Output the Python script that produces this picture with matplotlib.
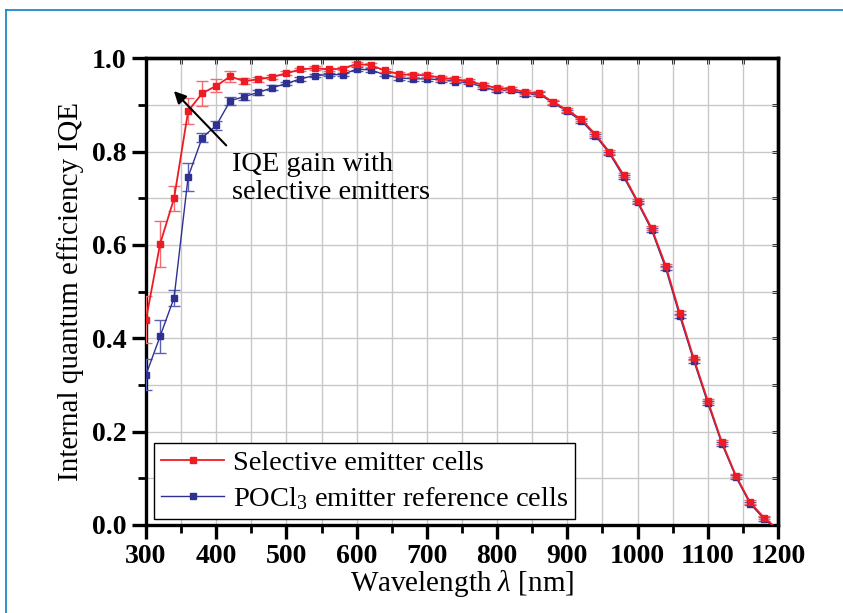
import matplotlib
matplotlib.use("Agg")
import matplotlib.pyplot as plt
from matplotlib.ticker import MultipleLocator
from matplotlib.lines import Line2D

plt.rcParams['font.family'] = ['Liberation Serif', 'DejaVu Serif']
plt.rcParams['mathtext.fontset'] = 'custom'
plt.rcParams['mathtext.rm'] = 'Liberation Serif'
plt.rcParams['mathtext.it'] = 'Liberation Serif:italic'

# wavelength grid in nm
wavelength = [300, 320, 340, 360, 380, 400, 420, 440, 460, 480, 500, 520, 540, 560,
              580, 600, 620, 640, 660, 680, 700, 720, 740, 760, 780, 800, 820, 840,
              860, 880, 900, 920, 940, 960, 980, 1000, 1020, 1040, 1060, 1080, 1100,
              1120, 1140, 1160, 1180, 1200]

# selective emitter cells
iqe_sel = [0.440, 0.602, 0.700, 0.887, 0.925, 0.941, 0.961, 0.951, 0.955, 0.960,
           0.968, 0.976, 0.979, 0.976, 0.978, 0.988, 0.985, 0.974, 0.966, 0.964,
           0.964, 0.958, 0.955, 0.951, 0.943, 0.936, 0.935, 0.927, 0.925, 0.906,
           0.889, 0.869, 0.837, 0.799, 0.750, 0.694, 0.636, 0.556, 0.454, 0.357,
           0.266, 0.178, 0.106, 0.049, 0.016, -0.010]
err_sel = [0.050, 0.050, 0.027, 0.027, 0.027, 0.014, 0.012, 0.006, 0.005, 0.005,
           0.004, 0.004, 0.004, 0.004, 0.004, 0.004, 0.004, 0.004, 0.004, 0.004,
           0.004, 0.004, 0.004, 0.004, 0.004, 0.004, 0.004, 0.004, 0.004, 0.004,
           0.004, 0.004, 0.004, 0.004, 0.004, 0.004, 0.004, 0.004, 0.004, 0.004,
           0.004, 0.004, 0.004, 0.004, 0.004, 0.004]

# POCl3 emitter reference cells
iqe_ref = [0.322, 0.404, 0.487, 0.746, 0.830, 0.856, 0.909, 0.918, 0.927, 0.937,
           0.946, 0.956, 0.963, 0.965, 0.965, 0.977, 0.975, 0.965, 0.958, 0.956,
           0.956, 0.954, 0.950, 0.948, 0.938, 0.931, 0.931, 0.923, 0.923, 0.904,
           0.886, 0.866, 0.834, 0.796, 0.746, 0.691, 0.632, 0.550, 0.448, 0.352,
           0.261, 0.174, 0.103, 0.046, 0.013, -0.012]
err_ref = [0.033, 0.036, 0.017, 0.030, 0.010, 0.010, 0.009, 0.007, 0.005, 0.005,
           0.004, 0.004, 0.004, 0.004, 0.004, 0.004, 0.004, 0.004, 0.004, 0.004,
           0.004, 0.004, 0.004, 0.004, 0.004, 0.004, 0.004, 0.004, 0.004, 0.004,
           0.004, 0.004, 0.004, 0.004, 0.004, 0.004, 0.004, 0.004, 0.004, 0.004,
           0.004, 0.004, 0.004, 0.004, 0.004, 0.004]

red = '#ed1c24'
blue = '#2e3192'

fig = plt.figure(figsize=(8.43, 6.13), dpi=100)
ax = fig.add_axes([0.1732, 0.1436, 0.7497, 0.7613])

ax.errorbar(wavelength, iqe_ref, yerr=err_ref, color=blue, lw=1.0, marker='s', ms=4,
            ecolor='#5a5fb0', elinewidth=1.0, capsize=4, capthick=1.0, zorder=3)
ax.errorbar(wavelength, iqe_sel, yerr=err_sel, color=red, lw=1.3, marker='s', ms=4,
            ecolor='#f26a6f', elinewidth=1.0, capsize=4, capthick=1.0, zorder=4)

ax.set_xlim(300, 1200)
ax.set_ylim(0, 1.0)
ax.xaxis.set_major_locator(MultipleLocator(100))
ax.xaxis.set_minor_locator(MultipleLocator(50))
ax.yaxis.set_major_locator(MultipleLocator(0.2))
ax.yaxis.set_minor_locator(MultipleLocator(0.1))
ax.yaxis.set_major_formatter(plt.FuncFormatter(lambda v, p: f"{v:.1f}"))

ax.grid(True, which='both', color='#c8c8c8', lw=1.0, zorder=0)
ax.set_axisbelow(True)

for s in ax.spines.values():
    s.set_linewidth(2.4)
ax.tick_params(which='major', direction='out', length=10, width=2.4,
               labelsize=20, pad=4)
ax.tick_params(which='minor', direction='out', length=6, width=2.0)
for lab in ax.get_xticklabels() + ax.get_yticklabels():
    lab.set_fontweight('bold')

# inward ticks on top and right
sec_x = ax.secondary_xaxis('top')
sec_x.xaxis.set_major_locator(MultipleLocator(100))
sec_x.xaxis.set_minor_locator(MultipleLocator(50))
sec_x.tick_params(which='both', direction='in', length=4, width=2.0, labeltop=False)
sec_y = ax.secondary_yaxis('right')
sec_y.yaxis.set_major_locator(MultipleLocator(0.2))
sec_y.yaxis.set_minor_locator(MultipleLocator(0.1))
sec_y.tick_params(which='both', direction='in', length=4, width=2.0, labelright=False)
for sec in (sec_x, sec_y):
    for s in sec.spines.values():
        s.set_linewidth(2.4)

ax.set_xlabel(r'Wavelength $\mathit{\lambda}$ [nm]', fontsize=21, labelpad=-1)
ax.set_ylabel('Internal quantum efficiency IQE', fontsize=21, labelpad=6)

ax.annotate('', xy=(337, 0.934), xytext=(417, 0.809),
            arrowprops=dict(arrowstyle='-|>', color='black', lw=1.5,
                            mutation_scale=18), zorder=5)
ax.text(422, 0.80, 'IQE gain with\nselective emitters', fontsize=20.5,
        va='top', ha='left', linespacing=1.2, zorder=5)

handles = [Line2D([], [], color=red, lw=1.3, marker='s', ms=5),
           Line2D([], [], color=blue, lw=1.0, marker='s', ms=5)]
leg = ax.legend(handles, ['Selective emitter cells', r'POCl$_3$ emitter reference cells'],
                loc='lower left', bbox_to_anchor=(0.013, 0.012), fontsize=20.5,
                frameon=True, fancybox=False, edgecolor='black', framealpha=1,
                borderpad=0.25, handlelength=2.2, handletextpad=0.3, labelspacing=0.32,
                borderaxespad=0)
leg.get_frame().set_linewidth(1.0)

# page frame lines
fig.add_artist(Line2D([6 / 843, 6 / 843], [0, 1 - 10 / 613], color='#0a7fc6', lw=1.2))
fig.add_artist(Line2D([6 / 843, 1], [1 - 10 / 613, 1 - 10 / 613], color='#0a7fc6', lw=1.2))

fig.savefig('out.png', dpi=100)
